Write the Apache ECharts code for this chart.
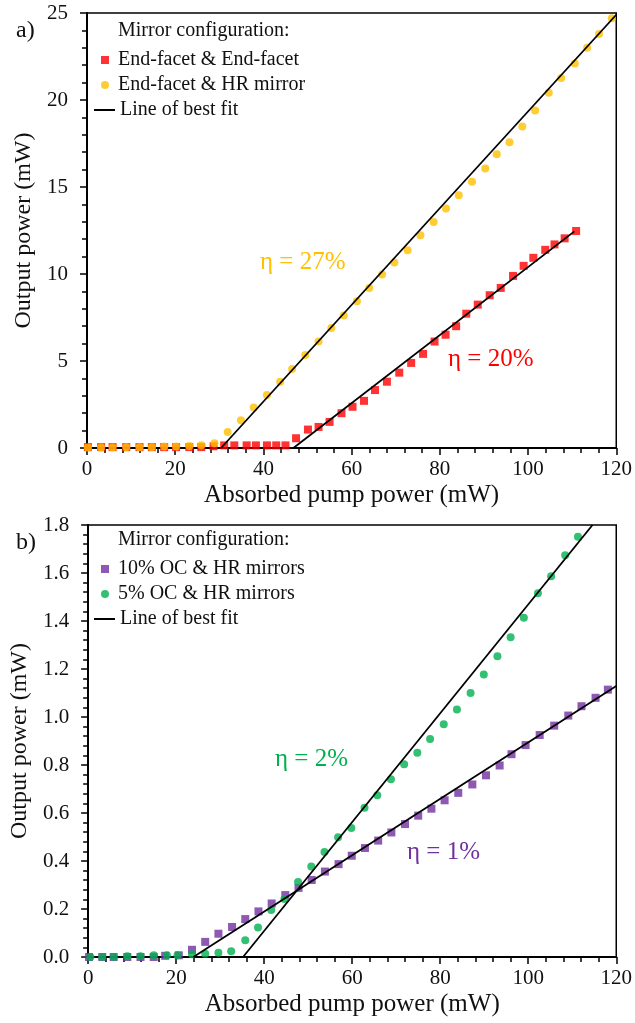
<!DOCTYPE html>
<html>
<head>
<meta charset="utf-8">
<script src="https://cdn.jsdelivr.net/npm/echarts@6/dist/echarts.min.js"></script>
<style>
html, body { margin: 0; padding: 0; background: #fff; }
#chart { width: 635px; height: 1023px; }
</style>
</head>
<body>
<div id="chart"></div>
<script>
// a) end-facet mirrors
var endEndX = [0.2, 3.2, 5.8, 8.9, 11.9, 14.7, 17.5, 20.2, 23.2, 25.9, 28.7, 31.1, 33.4, 36.2, 38.3, 40.8, 42.9, 45.0, 47.4, 50.1, 52.5, 55.0, 57.7, 60.2, 62.8, 65.3, 68.0, 70.8, 73.5, 76.2, 78.8, 81.3, 83.7, 86.0, 88.6, 91.3, 93.8, 96.6, 99.0, 101.2, 103.9, 106.0, 108.3, 110.9];
var endEndY = [0.05, 0.05, 0.05, 0.05, 0.05, 0.05, 0.05, 0.05, 0.05, 0.05, 0.1, 0.15, 0.15, 0.15, 0.15, 0.15, 0.15, 0.15, 0.56, 1.06, 1.21, 1.5, 2.0, 2.37, 2.71, 3.33, 3.81, 4.33, 4.89, 5.41, 6.12, 6.51, 7.0, 7.72, 8.24, 8.78, 9.2, 9.89, 10.47, 10.93, 11.39, 11.7, 12.05, 12.47];
var endHrX = [0.2, 3.2, 5.8, 8.9, 11.9, 14.7, 17.5, 20.2, 23.2, 25.9, 28.9, 31.9, 34.9, 37.8, 40.8, 43.8, 46.5, 49.5, 52.5, 55.4, 58.2, 61.2, 64.0, 66.9, 69.7, 72.7, 75.6, 78.6, 81.4, 84.3, 87.3, 90.3, 92.9, 95.8, 98.7, 101.6, 104.7, 107.5, 110.6, 113.4, 116.1, 119.0];
var endHrY = [0.03, 0.03, 0.03, 0.04, 0.04, 0.05, 0.08, 0.08, 0.12, 0.16, 0.27, 0.92, 1.6, 2.33, 3.04, 3.81, 4.54, 5.35, 6.12, 6.89, 7.62, 8.44, 9.2, 9.97, 10.66, 11.36, 12.22, 12.99, 13.76, 14.53, 15.3, 16.07, 16.88, 17.57, 18.48, 19.4, 20.42, 21.27, 22.1, 23.0, 23.8, 24.7];
var fitEndEnd = [[46.8, 0], [110.5, 12.45]];
var fitEndHr = [[30.4, 0], [120, 24.9]];

// b) output coupler mirrors
var oc10X = [0.2, 3.2, 5.8, 8.9, 11.9, 14.9, 17.5, 20.6, 23.6, 26.6, 29.6, 32.7, 35.7, 38.7, 41.7, 44.8, 47.8, 50.8, 53.8, 56.9, 59.9, 62.9, 65.9, 68.9, 72.0, 75.0, 78.0, 81.0, 84.1, 87.3, 90.4, 93.5, 96.2, 99.4, 102.6, 105.9, 109.1, 112.1, 115.3, 118.1];
var oc10Y = [0, 0, 0, 0, 0, 0, 0.005, 0.007, 0.03, 0.063, 0.097, 0.125, 0.158, 0.19, 0.223, 0.258, 0.288, 0.321, 0.356, 0.387, 0.422, 0.454, 0.485, 0.519, 0.554, 0.589, 0.618, 0.653, 0.684, 0.719, 0.757, 0.798, 0.845, 0.883, 0.925, 0.964, 1.006, 1.045, 1.08, 1.114];
var oc5X = [0.5, 3.2, 5.8, 8.9, 11.9, 14.9, 17.9, 20.3, 23.6, 26.6, 29.6, 32.5, 35.7, 38.6, 41.6, 44.6, 47.7, 50.7, 53.7, 56.8, 59.8, 62.8, 65.7, 68.8, 71.8, 74.8, 77.7, 80.8, 83.8, 86.9, 89.9, 93.0, 96.0, 99.0, 102.2, 105.2, 108.4, 111.3];
var oc5Y = [0, 0, 0, 0.003, 0.003, 0.007, 0.007, 0.007, 0.011, 0.014, 0.018, 0.024, 0.07, 0.123, 0.196, 0.242, 0.312, 0.377, 0.437, 0.499, 0.538, 0.622, 0.674, 0.741, 0.803, 0.851, 0.908, 0.97, 1.031, 1.1, 1.177, 1.253, 1.332, 1.414, 1.516, 1.586, 1.674, 1.751];
var fitOc10 = [[23.9, 0], [120, 1.129]];
var fitOc5 = [[35.2, 0], [114.6, 1.8]];

var RED = '#ff0000', GOLD = '#ffc000', PURPLE = '#7030a0', GREEN = '#00b050';
var FONT = 'Liberation Serif';

function pairs(xs, ys) {
    var out = [];
    for (var i = 0; i < xs.length; i++) out.push([xs[i], ys[i]]);
    return out;
}

function xAxisFor(gi) {
    return {
        type: 'value', gridIndex: gi, min: 0, max: 120, interval: 20,
        name: 'Absorbed pump power (mW)', nameLocation: 'middle', nameGap: 35,
        nameTextStyle: { fontFamily: FONT, fontSize: 25, color: '#111' },
        axisLine: { lineStyle: { color: '#000', width: 2 } },
        axisTick: { length: 7, lineStyle: { color: '#000', width: 1.5 } },
        minorTick: { show: true, splitNumber: 5, length: 5, lineStyle: { color: '#000', width: 1.5 } },
        axisLabel: { fontFamily: FONT, fontSize: 21, color: '#111', margin: 11 },
        splitLine: { show: false }
    };
}

function yAxisFor(gi, max, interval, digits) {
    return {
        type: 'value', gridIndex: gi, min: 0, max: max, interval: interval,
        name: 'Output power (mW)', nameLocation: 'middle', nameGap: 50,
        nameTextStyle: { fontFamily: FONT, fontSize: 24, color: '#111' },
        axisLine: { lineStyle: { color: '#000', width: 2 } },
        axisTick: { length: 7, lineStyle: { color: '#000', width: 1.5 } },
        minorTick: { show: true, splitNumber: 5, length: 5, lineStyle: { color: '#000', width: 1.5 } },
        axisLabel: {
            fontFamily: FONT, fontSize: 21, color: '#111', margin: 19,
            formatter: function (v) { return v.toFixed(digits); }
        },
        splitLine: { show: false }
    };
}

// marker rows: small square/circle icons
function markerLegend(top, names, icons) {
    return {
        orient: 'vertical', left: 96, top: top,
        itemWidth: 8, itemHeight: 8, itemGap: 5,
        selectedMode: false,
        textStyle: { fontFamily: FONT, fontSize: 20, color: '#111', padding: [0, 0, 0, 4] },
        data: [{ name: names[0], icon: icons[0] }, { name: names[1], icon: icons[1] }]
    };
}

// line row: plain black dash
function lineLegend(top) {
    return {
        orient: 'vertical', left: 88, top: top,
        itemWidth: 21, itemHeight: 8,
        selectedMode: false,
        textStyle: { fontFamily: FONT, fontSize: 20, color: '#111' },
        data: [{ name: 'Line of best fit', itemStyle: { opacity: 0 } }]
    };
}

var chart = echarts.init(document.getElementById('chart'));
var option = {
    animation: false,
    backgroundColor: '#fff',
    grid: [
        { left: 87, top: 13, width: 530, height: 435, show: true, borderColor: '#000', borderWidth: 1.5 },
        { left: 87, top: 525, width: 530, height: 432, show: true, borderColor: '#000', borderWidth: 1.5 }
    ],
    xAxis: [xAxisFor(0), xAxisFor(1)],
    yAxis: [yAxisFor(0, 25, 5, 0), yAxisFor(1, 1.8, 0.2, 1)],
    legend: [
        markerLegend(45, ['End-facet & End-facet', 'End-facet & HR mirror'], ['rect', 'circle']),
        lineLegend(95),
        markerLegend(554, ['10% OC & HR mirrors', '5% OC & HR mirrors'], ['rect', 'circle']),
        lineLegend(604)
    ],
    graphic: [
        { type: 'text', left: 16, top: 19, style: { text: 'a)', font: '24px "Liberation Serif"', fill: '#111' } },
        { type: 'text', left: 16, top: 531, style: { text: 'b)', font: '24px "Liberation Serif"', fill: '#111' } },
        { type: 'text', left: 118, top: 21, style: { text: 'Mirror configuration:', font: '20px "Liberation Serif"', fill: '#111' } },
        { type: 'text', left: 118, top: 530, style: { text: 'Mirror configuration:', font: '20px "Liberation Serif"', fill: '#111' } },
        { type: 'text', left: 260, top: 250, style: { text: 'η = 27%', font: '25px "Liberation Serif"', fill: GOLD } },
        { type: 'text', left: 448, top: 347, style: { text: 'η = 20%', font: '25px "Liberation Serif"', fill: RED } },
        { type: 'text', left: 275, top: 747, style: { text: 'η = 2%', font: '25px "Liberation Serif"', fill: GREEN } },
        { type: 'text', left: 407, top: 840, style: { text: 'η = 1%', font: '25px "Liberation Serif"', fill: PURPLE } }
    ],
    series: [
        { name: 'Line of best fit', type: 'line', xAxisIndex: 0, yAxisIndex: 0, data: fitEndHr, symbol: 'none', lineStyle: { color: '#000', width: 1.8 }, itemStyle: { color: '#000' } },
        { name: 'Line of best fit', type: 'line', xAxisIndex: 0, yAxisIndex: 0, data: fitEndEnd, symbol: 'none', lineStyle: { color: '#000', width: 1.8 }, itemStyle: { color: '#000' } },
        { name: 'End-facet & End-facet', type: 'scatter', xAxisIndex: 0, yAxisIndex: 0, data: pairs(endEndX, endEndY), symbol: 'rect', symbolSize: 8, itemStyle: { color: RED } },
        { name: 'End-facet & HR mirror', type: 'scatter', xAxisIndex: 0, yAxisIndex: 0, data: pairs(endHrX, endHrY), symbol: 'circle', symbolSize: 8, itemStyle: { color: GOLD } },
        { name: 'Line of best fit', type: 'line', xAxisIndex: 1, yAxisIndex: 1, data: fitOc5, symbol: 'none', lineStyle: { color: '#000', width: 1.8 }, itemStyle: { color: '#000' } },
        { name: 'Line of best fit', type: 'line', xAxisIndex: 1, yAxisIndex: 1, data: fitOc10, symbol: 'none', lineStyle: { color: '#000', width: 1.8 }, itemStyle: { color: '#000' } },
        { name: '10% OC & HR mirrors', type: 'scatter', xAxisIndex: 1, yAxisIndex: 1, data: pairs(oc10X, oc10Y), symbol: 'rect', symbolSize: 8, itemStyle: { color: PURPLE } },
        { name: '5% OC & HR mirrors', type: 'scatter', xAxisIndex: 1, yAxisIndex: 1, data: pairs(oc5X, oc5Y), symbol: 'circle', symbolSize: 8, itemStyle: { color: GREEN } }
    ]
};
chart.setOption(option);
</script>
</body>
</html>
